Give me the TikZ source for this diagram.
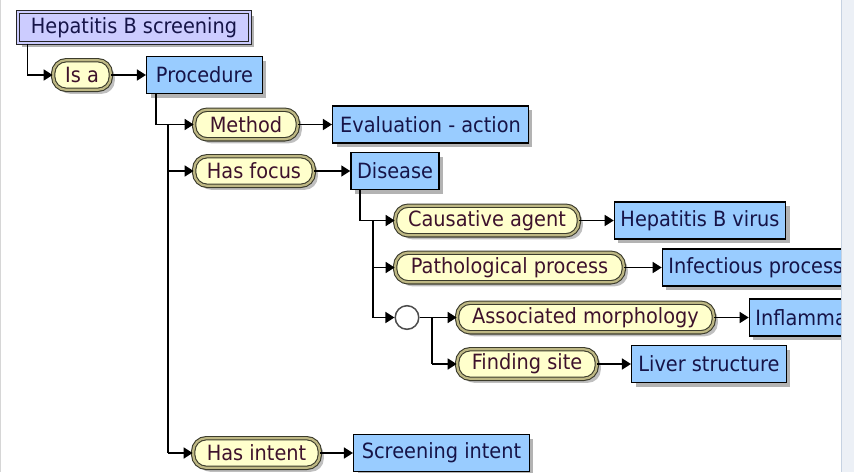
\documentclass[tikz,border=0pt]{standalone}
\usepackage{fontspec}
\setmainfont{DejaVu Sans}[FakeStretch=0.92]
\usepackage{xcolor}
\usepackage{tikz}
\usetikzlibrary{positioning,arrows.meta,shadows}
\definecolor{conceptblue}{RGB}{153,204,255}
\definecolor{rootlilac}{RGB}{204,204,255}
\definecolor{attrfill}{RGB}{255,255,204}
\definecolor{attrband}{RGB}{190,184,132}
\definecolor{attrline}{RGB}{60,60,44}
\definecolor{boxtext}{RGB}{22,20,72}
\definecolor{attrtext}{RGB}{62,18,44}
\definecolor{paneedge}{RGB}{214,214,214}
\definecolor{panestrip}{RGB}{236,240,246}
\definecolor{panestripline}{RGB}{198,210,226}

\begin{document}
\begin{tikzpicture}[
  x=1pt, y=-1pt,
  font=\fontsize{21}{25}\selectfont,
  concept/.style={draw=black, line width=1.5pt, fill=conceptblue, text=boxtext,
                  minimum height=37pt, inner xsep=6pt, inner ysep=0pt,
                  drop shadow={shadow xshift=4pt, shadow yshift=-4pt, fill=black!50, opacity=0.6}},
  rootbox/.style={concept, fill=rootlilac, draw=black!85, line width=1.1pt,
                  double=rootlilac, double distance=1.6pt, minimum height=31.2pt, text=boxtext},
  attr/.style={draw=attrline, line width=1.1pt, double=attrband, double distance=2.2pt,
               fill=attrfill, rounded corners=13pt, minimum height=29.6pt,
               inner xsep=8pt, inner ysep=0pt, text=attrtext,
               drop shadow={shadow xshift=4pt, shadow yshift=-4pt, fill=black!50, opacity=0.5}},
  junction/.style={circle, draw=black!70, fill=white, line width=1.5pt,
                   minimum size=23.6pt, inner sep=0pt},
  wire/.style={line width=1.6pt},
  arr/.style={wire, -{Triangle[length=9pt, width=11pt]}}
]
\useasboundingbox (0,0) rectangle (854,472);
\begin{scope}
\clip (0,0) rectangle (841,472);
% ----- root and first level -----
\node[rootbox, minimum width=232.2pt] (root) at (134,27.5) {Hepatitis B screening};
\node[attr, minimum width=57.6pt]     (isa)  at (82,75)     {Is a};
\node[concept, minimum width=115.6pt] (proc) at (204.5,75)  {Procedure};
% ----- attributes of the procedure -----
\node[attr, minimum width=103.6pt]    (method)    at (246,124.5) {Method};
\node[concept, minimum width=195.6pt] (evalact)   at (430.5,124.5) {Evaluation - action};
\node[attr, minimum width=119.6pt]    (hasfocus)  at (254,171)   {Has focus};
\node[concept, minimum width=86.6pt]  (disease)   at (395,171)   {Disease};
\node[attr, minimum width=126.6pt]    (hasintent) at (256.5,453) {Has intent};
\node[concept, minimum width=175.6pt] (scrintent) at (441.5,453) {Screening intent};
% ----- attributes of the disease -----
\node[attr, minimum width=183.6pt]    (causative) at (487,220.5) {Causative agent};
\node[concept, minimum width=170.6pt] (hbv)       at (700,220.5) {Hepatitis B virus};
\node[attr, minimum width=228.6pt]    (pathproc)  at (509.5,267.5) {Pathological process};
\node[concept, anchor=west]           (infproc)   at (661.7,267.5) {Infectious process};
\node[junction]                       (grp)       at (407,317.5) {};
\node[attr, minimum width=256.6pt]    (assocmorph) at (585.5,317.5) {Associated morphology};
\node[concept, anchor=west]           (inflamm)   at (748.7,317.5) {Inflammation};
\node[attr, minimum width=139.6pt]    (findsite)  at (527,364)   {Finding site};
\node[concept, minimum width=154.6pt] (liver)     at (709,364)   {Liver structure};
% ----- connectors -----
\draw[arr] ([xshift=10pt]root.south west) |- (isa.west);
\draw[arr] ([xshift=10pt]proc.south west) |- (method.west);
\draw[arr] ([xshift=10pt]disease.south west) |- (causative.west);
\coordinate (busP) at (168,124.5);
\coordinate (busD) at (373,220.5);
\coordinate (busG) at (432,317.5);
\draw[wire] (busP) -- (busP |- hasintent.west);
\draw[wire] (busD) -- (busD |- grp.west);
\draw[wire] (busG) -- (busG |- findsite.west);
\foreach \n in {hasfocus, hasintent}{\draw[arr] (busP |- \n.west) -- (\n.west);}
\foreach \n in {pathproc, grp}{\draw[arr] (busD |- \n.west) -- (\n.west);}
\draw[arr] (busG |- findsite.west) -- (findsite.west);
\foreach \a/\b in {isa/proc, method/evalact, hasfocus/disease, causative/hbv, pathproc/infproc,
                   grp/assocmorph, assocmorph/inflamm, findsite/liver, hasintent/scrintent}
  {\draw[arr] (\a.east) -- (\b.west);}
\end{scope}
% ----- pane edges -----
\fill[panestrip] (841,0) rectangle (854,472);
\draw[panestripline, line width=1pt] (841.5,0) -- (841.5,472);
\draw[paneedge, line width=1pt] (0.5,0) -- (0.5,472);
\end{tikzpicture}
\end{document}
